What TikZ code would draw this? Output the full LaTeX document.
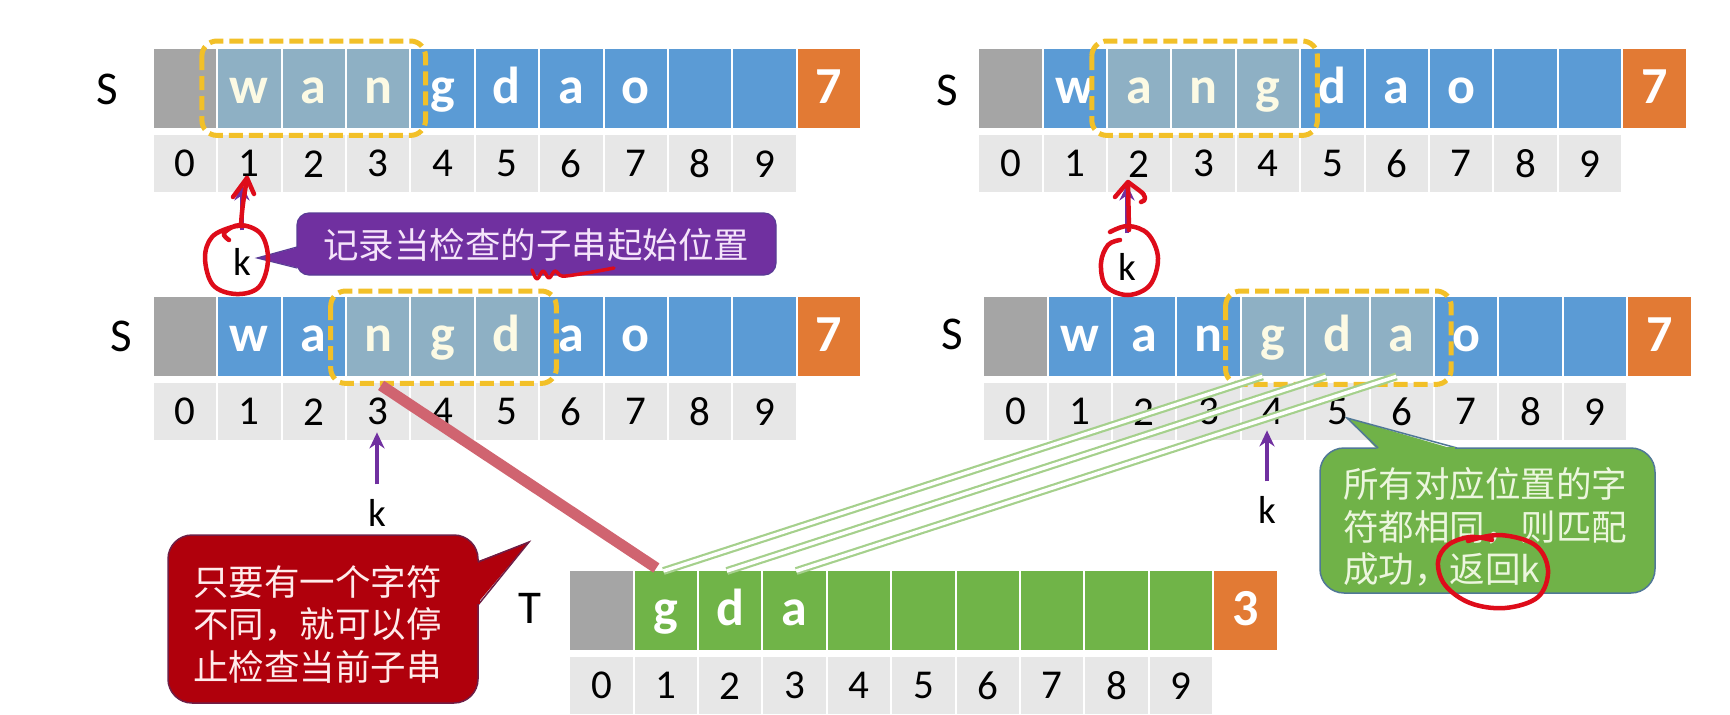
\documentclass[tikz,border=0pt]{standalone}
\usepackage{fontspec}
\setmainfont{Carlito}
\newfontfamily\cjkfont{Noto Sans CJK SC}
\usetikzlibrary{calc,arrows.meta}

\definecolor{cblue}{RGB}{91,155,213}
\definecolor{cgray}{RGB}{165,165,165}
\definecolor{corange}{RGB}{226,122,52}
\definecolor{cgreen}{RGB}{112,180,72}
\definecolor{cidx}{RGB}{231,231,231}
\definecolor{chl}{RGB}{142,176,196}
\definecolor{ccream}{RGB}{252,250,228}
\definecolor{cyel}{RGB}{242,192,40}
\definecolor{cpurp}{RGB}{112,48,160}
\definecolor{cpurpb}{RGB}{90,60,150}
\definecolor{cptext}{RGB}{245,228,250}
\definecolor{cdred}{RGB}{176,0,12}
\definecolor{cdredb}{RGB}{110,30,70}
\definecolor{crtext}{RGB}{255,235,235}
\definecolor{cgbox}{RGB}{112,178,72}
\definecolor{cgboxb}{RGB}{80,120,150}
\definecolor{cgtext}{RGB}{236,246,222}
\definecolor{cgline}{RGB}{165,208,140}
\definecolor{credline}{RGB}{208,100,112}
\definecolor{cpen}{RGB}{222,12,26}

\newcommand\letterfont{\fontsize{52}{52}\selectfont\bfseries}
\newcommand\idxfont{\fontsize{41}{41}\selectfont}
\newcommand\orfont{\fontsize{52}{52}\selectfont\bfseries}
\newcommand\lblfont{\fontsize{47}{47}\selectfont}
\newcommand\kfont{\fontsize{39}{39}\selectfont}
\newcommand\calloutfont{\cjkfont\fontsize{35.5}{42.5}\selectfont}

\tikzset{
  cellbox/.style={anchor=north west, minimum width=62.4pt, minimum height=79pt,
    inner sep=0pt, text height=40pt, text depth=10pt, font=\letterfont, text=white},
  idxbox/.style={anchor=north west, minimum width=62.4pt, minimum height=57pt,
    inner sep=0pt, fill=cidx, font=\idxfont, text=black},
  hlbox/.style={draw=cyel, line width=5pt, dash pattern=on 14pt off 6pt, rounded corners=15pt},
  lbl/.style={font=\lblfont, text=black, inner sep=0pt},
  klbl/.style={font=\kfont, text=black, inner sep=0pt},
  parrow/.style={draw=cpurp, line width=4.5pt, -{Stealth[length=16pt,width=15pt]}},
  pen/.style={draw=cpen, line width=4.5pt, line cap=round, line join=round},
  gline/.style={draw=cgline, line width=2.2pt, double=white, double distance=3.5pt},
  rline/.style={draw=credline, line width=11pt},
  ctext/.style={font=\calloutfont, inner sep=0pt},
}

\newcommand\mkarray[8]{%
  \node[cellbox, fill=cgray] (#1-c0) at (#2,#3) {};
  \foreach \i/\t in {#5} {%
    \ifnum\i<#7\relax \def\cf{#4}\def\tc{white}%
    \else\ifnum\i>#8\relax \def\cf{#4}\def\tc{white}%
    \else \def\cf{chl}\def\tc{ccream}\fi\fi
    \node[cellbox, fill=\cf, text=\tc] (#1-c\i) at ({#2+64.4*\i},#3) {\t};
  }
  \node[cellbox, fill=corange, font=\orfont] (#1-c10) at ({#2+644},#3) {#6};
  \foreach \i in {0,...,9} {\node[idxbox] (#1-i\i) at ({#2+64.4*\i},{#3+86}) {\i};}
}

\begin{document}
\begin{tikzpicture}[x=1pt,y=-1pt]
\fill[white] (0,0) rectangle (1730,715);
\useasboundingbox (0,0) rectangle (1730,715);

% arrays
\mkarray{TL}{153.5}{49}{cblue}{1/w,2/a,3/n,4/g,5/d,6/a,7/o,8/{},9/{}}{7}{1}{3}
\mkarray{TR}{979}{49}{cblue}{1/w,2/a,3/n,4/g,5/d,6/a,7/o,8/{},9/{}}{7}{2}{4}
\mkarray{ML}{153.5}{297}{cblue}{1/w,2/a,3/n,4/g,5/d,6/a,7/o,8/{},9/{}}{7}{3}{5}
\mkarray{MR}{984}{297}{cblue}{1/w,2/a,3/n,4/g,5/d,6/a,7/o,8/{},9/{}}{7}{4}{6}
\mkarray{T}{570}{571}{cgreen}{1/g,2/d,3/a,4/{},5/{},6/{},7/{},8/{},9/{}}{3}{99}{0}

% labels
\node[lbl] (S1) at (107,89) {S};
\node[lbl] (S2) at (947,90) {S};
\node[lbl] (S3) at (121,336) {S};
\node[lbl] (S4) at (952,334) {S};
\node[lbl] (Tlab) at (530,608) {T};

% dashed windows
\draw[hlbox] ($(TL-c1.north west)+(-16,-8)$) rectangle ($(TL-c3.south east)+(16,7)$);
\draw[hlbox] ($(TR-c2.north west)+(-16,-8)$) rectangle ($(TR-c4.south east)+(18,7)$);
\draw[hlbox] ($(ML-c3.north west)+(-16,-6)$) rectangle ($(ML-c5.south east)+(18,7)$);
\draw[hlbox] ($(MR-c4.north west)+(-16,-6)$) rectangle ($(MR-c6.south east)+(18,8)$);

% comparison lines
\draw[rline] ($(ML-c3.south)+(3,9)$) -- ($(T-c1.north west)+(22,-3)$);
\draw[gline] ($(MR-c4.south west)+(21,0)$) -- ($(T-c1.north west)+(29,0)$);
\draw[gline] ($(MR-c5.south west)+(20,0)$) -- ($(T-c2.north west)+(28,0)$);
\draw[gline] ($(MR-c6.south west)+(26,0)$) -- ($(T-c3.north west)+(33,0)$);

% k pointers
\node[klbl] (kTL) at (242,262) {k};
\node[klbl] (kTR) at (1127,267) {k};
\node[klbl] (kML) at (377,513) {k};
\node[klbl] (kMR) at (1267,510) {k};
\draw[parrow] ($(kTL.north)+(0,-18)$) -- ($(kTL.north |- TL-i1.south)+(0,-8)$);
\draw[parrow] ($(kTR.north)+(0,-20)$) -- ($(kTR.north |- TR-i2.south)+(0,-8)$);
\draw[parrow] ($(kML.north)+(0,-15)$) -- ($(kML.north |- ML-i3.south)+(0,-8)$);
\draw[parrow] ($(kMR.north)+(0,-15)$) -- ($(kMR.north |- MR-i4.south)+(0,-10)$);

% purple callout
\filldraw[fill=cpurp, draw=cpurpb, line width=1.2pt, rounded corners=12pt] (297,213) rectangle (776,275);
\fill[cpurp] (299,247) -- (257,258) -- (299,268) -- cycle;
\draw[cpurpb, line width=1.2pt] (297,247) -- (257,258) -- (297,268);
\fill[cpurp] (298,248.5) rectangle (300,266.5);
\node[ctext, text=cptext] (cP) at (536,245) {记录当检查的子串起始位置};

% red callout
\filldraw[fill=cdred, draw=cdredb, line width=1.5pt, rounded corners=24pt] (168,535) rectangle (478,703);
\fill[cdred] (476,562) -- (529,542) -- (476,605) -- cycle;
\draw[cdredb, line width=1.5pt] (478,562) -- (529,542) -- (478,605);
\fill[cdred] (476,563.5) rectangle (479.5,603.5);
\node[ctext, text=crtext, align=left, anchor=west] (cR) at (193,624) {只要有一个字符\\不同，就可以停\\止检查当前子串};

% green callout
\filldraw[fill=cgbox, draw=cgboxb, line width=1.5pt, rounded corners=24pt] (1320,448) rectangle (1655,593);
\fill[cgbox] (1378,450) -- (1347,418) -- (1457,450) -- cycle;
\draw[cgboxb, line width=1.5pt] (1378,448) -- (1347,418) -- (1457,448);
\fill[cgbox] (1380,446.5) rectangle (1455,450);
\node[ctext, text=cgtext, align=left, anchor=west] (cG) at (1343,527) {所有对应位置的字\\符都相同，则匹配\\成功，返回k};

% hand-drawn pen marks
\draw[pen] (241,226) .. controls (242,205) and (245,192) .. (247,178);
\draw[pen] (233,197) -- (247,178) -- (254,194);
\draw[pen] plot[smooth, tension=0.6] coordinates {(229,240) (224,233) (240,225) (261,234) (268,260) (259,287) (236,294) (213,285) (205,258) (212,237) (232,227) (246,226)};
\draw[pen] (1129,230) -- (1128,183);
\draw[pen] (1115,197) -- (1128,182) -- (1140,191) .. controls (1146,195) and (1147,201) .. (1141,202);
\draw[pen] plot[smooth, tension=0.6] coordinates {(1120,240) (1108,245) (1101,263) (1106,286) (1128,295) (1150,285) (1158,258) (1148,234) (1128,226) (1110,232)};
\draw[pen, line width=3.5pt] plot[smooth, tension=0.6] coordinates {(532,270) (537,279) (543,271) (549,278) (555,271) (562,276) (580,274) (598,271) (614,268)};
\draw[pen] plot[smooth, tension=0.6] coordinates {(1468,541) (1500,535) (1535,545) (1548,570) (1538,597) (1505,608) (1470,603) (1445,585) (1438,562) (1448,545) (1470,537) (1492,540)};
\end{tikzpicture}
\end{document}
